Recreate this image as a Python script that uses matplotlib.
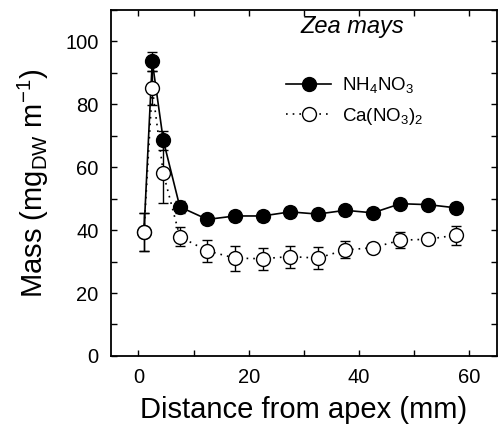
import matplotlib
matplotlib.use('Agg')
import matplotlib.pyplot as plt
import matplotlib.ticker as ticker

plt.rcParams['font.family'] = ['Liberation Sans', 'DejaVu Sans']
plt.rcParams['mathtext.fontset'] = 'custom'
plt.rcParams['mathtext.rm'] = 'Liberation Sans'
plt.rcParams['mathtext.it'] = 'Liberation Sans:italic'

# distance from apex (mm)
dist = [1, 2.5, 4.5, 7.5, 12.5, 17.5, 22.5, 27.5, 32.5, 37.5, 42.5, 47.5, 52.5, 57.5]

# NH4NO3 (filled)
nh4 = [39.5, 93.7, 68.6, 47.4, 43.4, 44.5, 44.5, 45.8, 45.1, 46.3, 45.5, 48.4, 48.1, 47.1]
nh4_err = [6.0, 3.0, 3.0, 2.0, 1.5, 1.5, 1.5, 1.5, 1.5, 1.5, 1.5, 1.5, 1.5, 1.5]

# Ca(NO3)2 (open)
ca = [39.5, 85.2, 58.1, 37.9, 33.4, 31.1, 30.9, 31.6, 31.1, 33.7, 34.4, 36.8, 37.1, 38.4]
ca_err = [6.0, 5.5, 9.5, 3.0, 3.5, 4.0, 3.5, 3.5, 3.5, 2.7, 1.5, 2.5, 1.5, 3.0]

fig = plt.figure(figsize=[5.04, 4.33], dpi=100)
ax = fig.add_axes([0.220, 0.178, 0.766, 0.799])

# error bars first, then lines + markers on top
ax.errorbar(dist, nh4, yerr=nh4_err, fmt='none', ecolor='black', elinewidth=1.0,
            capsize=3.5, capthick=1.0, zorder=2)
ax.errorbar(dist, ca, yerr=ca_err, fmt='none', ecolor='black', elinewidth=1.0,
            capsize=3.5, capthick=1.0, zorder=2)
ax.plot(dist, nh4, 'o-', color='black', mfc='black', mec='black', ms=10, lw=1.2,
        zorder=3, label='NH$_4$NO$_3$')
ax.plot(dist, ca, 'o', ls=(0, (1, 3)), color='black', mfc='white', mec='black', ms=10,
        mew=1.0, lw=1.2, zorder=4, label='Ca(NO$_3$)$_2$')

ax.set_xlim(-5, 65)
ax.set_ylim(0, 110)
ax.xaxis.set_major_locator(ticker.MultipleLocator(20))
ax.xaxis.set_minor_locator(ticker.MultipleLocator(10))
ax.yaxis.set_major_locator(ticker.MultipleLocator(20))
ax.yaxis.set_minor_locator(ticker.MultipleLocator(10))
ax.tick_params(which='both', direction='in', top=True, right=True, length=4.5, width=1.0)
ax.tick_params(which='major', labelsize=14.5, pad=9)
for s in ax.spines.values():
    s.set_linewidth(1.3)

ax.set_xlabel('Distance from apex (mm)', fontsize=21, labelpad=6)
ax.set_ylabel('Mass (mg$_{\\mathrm{DW}}$ m$^{-1}$)', fontsize=21, labelpad=10)

ax.text(0.49, 0.953, 'Zea mays', transform=ax.transAxes, fontsize=17, style='italic',
        ha='left', va='center')
ax.legend(loc='upper left', bbox_to_anchor=(0.41, 0.86), frameon=False,
          fontsize=13.5, handlelength=2.4, handletextpad=0.6, labelspacing=0.55)

fig.savefig('out.png', dpi=100)
